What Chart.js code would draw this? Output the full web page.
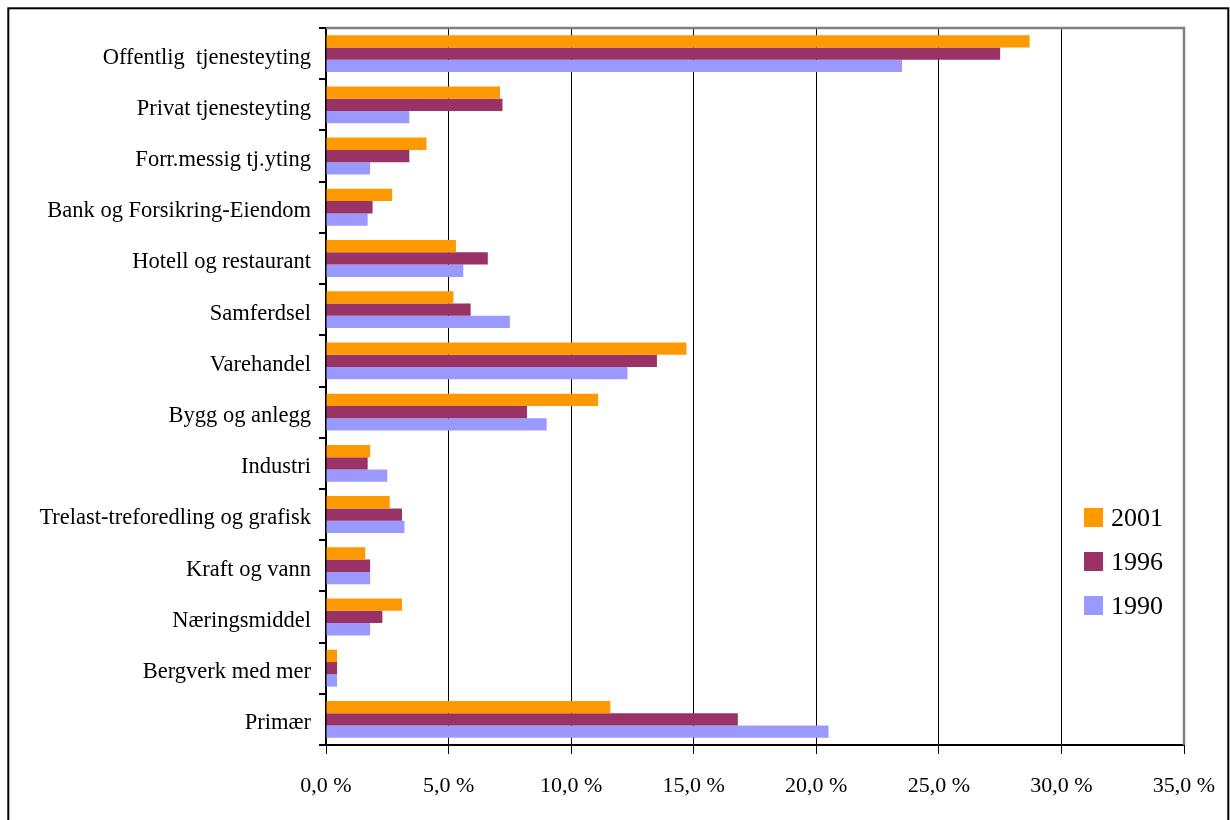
<!DOCTYPE html>
<html>
<head>
<meta charset="utf-8">
<title>Sysselsetting etter næring</title>
<script src="https://cdn.jsdelivr.net/npm/chart.js@4/dist/chart.umd.min.js"></script>
<style>
  html, body { margin: 0; padding: 0; background: #fff; }
  #wrap { position: relative; width: 1230px; height: 820px; }
</style>
</head>
<body>
<div id="wrap"><canvas id="grafico"></canvas></div>
<script>
// Kategorier (næringer) og andeler i prosent
const naeringer = [
  'Offentlig  tjenesteyting',
  'Privat tjenesteyting',
  'Forr.messig tj.yting',
  'Bank og Forsikring-Eiendom',
  'Hotell og restaurant',
  'Samferdsel',
  'Varehandel',
  'Bygg og anlegg',
  'Industri',
  'Trelast-treforedling og grafisk',
  'Kraft og vann',
  'Næringsmiddel',
  'Bergverk med mer',
  'Primær'
];
const aar = ['2001', '1996', '1990'];
const verdier2001 = [28.7, 7.1, 4.1, 2.7, 5.3, 5.2, 14.7, 11.1, 1.8, 2.6, 1.6, 3.1, 0.45, 11.6];
const verdier1996 = [27.5, 7.2, 3.4, 1.9, 6.6, 5.9, 13.5, 8.2, 1.7, 3.1, 1.8, 2.3, 0.45, 16.8];
const verdier1990 = [23.5, 3.4, 1.8, 1.7, 5.6, 7.5, 12.3, 9.0, 2.5, 3.2, 1.8, 1.8, 0.45, 20.5];
const xTicks = [0, 5, 10, 15, 20, 25, 30, 35];

const farger = ['#FF9900', '#993366', '#9999FF'];
const serif = "'Liberation Serif', 'Times New Roman', serif";

// Ramme, grå topp/høyre kant og legende inne i plottet
const rammePlugin = {
  id: 'ramme',
  afterDraw(chart) {
    const ctx = chart.ctx;
    const a = chart.chartArea;
    ctx.save();
    // grå kant oppe og til høyre
    ctx.strokeStyle = '#808080';
    ctx.lineWidth = 2.5;
    ctx.beginPath();
    ctx.moveTo(a.left, a.top);
    ctx.lineTo(a.right, a.top);
    ctx.lineTo(a.right, a.bottom);
    ctx.stroke();
    // ytre ramme
    ctx.strokeStyle = '#000';
    ctx.lineWidth = 2;
    ctx.strokeRect(8.3, 8.3, 1220, 830);
    // legende
    ctx.font = '26px ' + serif;
    ctx.textBaseline = 'middle';
    chart.data.datasets.forEach((ds, i) => {
      const y = 518 + i * 44;
      ctx.fillStyle = ds.backgroundColor;
      ctx.fillRect(1084, y - 10, 19, 19);
      ctx.fillStyle = '#000';
      ctx.fillText(ds.label, 1111, y + 1);
    });
    ctx.restore();
  }
};

function tegnGraf() {
  const ctx = document.getElementById('grafico').getContext('2d');
  new Chart(ctx, {
    type: 'bar',
    data: {
      labels: naeringer,
      datasets: [
        { label: aar[0], data: verdier2001, backgroundColor: farger[0] },
        { label: aar[1], data: verdier1996, backgroundColor: farger[1] },
        { label: aar[2], data: verdier1990, backgroundColor: farger[2] }
      ]
    },
    options: {
      indexAxis: 'y',
      responsive: false,
      animation: false,
      maintainAspectRatio: false,
      layout: { padding: { left: 0, top: 28, right: 46, bottom: 0 } },
      datasets: { bar: { categoryPercentage: 0.72, barPercentage: 1.0, borderWidth: 0 } },
      plugins: {
        legend: { display: false },
        tooltip: { enabled: false }
      },
      scales: {
        x: {
          min: 0,
          max: 35,
          afterBuildTicks(scale) { scale.ticks = xTicks.map(v => ({ value: v })); },
          afterFit(scale) {
            scale.height = 75;
            scale.paddingLeft = 0;
            scale.paddingRight = 0;
          },
          grid: { color: '#000', lineWidth: 1, tickLength: 9, drawTicks: true },
          border: { color: '#000', width: 2 },
          ticks: {
            color: '#000',
            padding: 19,
            font: { family: serif, size: 22 },
            callback: v => v.toFixed(1).replace('.', ',') + ' %'
          }
        },
        y: {
          afterFit(scale) {
            scale.width = 326;
            scale.paddingTop = 0;
            scale.paddingBottom = 0;
          },
          grid: { drawOnChartArea: false, drawTicks: true, tickLength: 7, color: '#000', lineWidth: 2, offset: true },
          border: { color: '#000', width: 2 },
          ticks: {
            color: '#000',
            padding: 8,
            labelOffset: 4,
            autoSkip: false,
            font: { family: serif, size: 22.5 }
          }
        }
      }
    },
    plugins: [rammePlugin]
  });
}

document.addEventListener('DOMContentLoaded', function () {
  const c = document.getElementById('grafico');
  c.width = 1230;
  c.height = 820;
  tegnGraf();
});
</script>
</body>
</html>
